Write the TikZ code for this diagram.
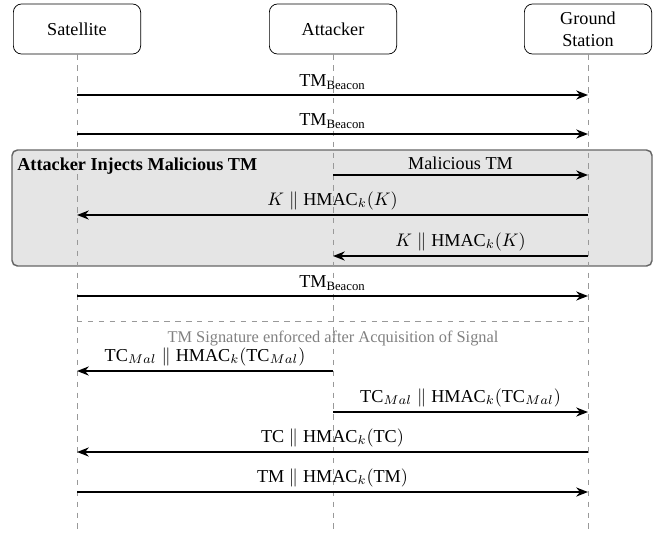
\documentclass[tikz,border=0pt]{standalone}
\usepackage{fontspec}
\setmainfont{Liberation Serif}
\usetikzlibrary{arrows.meta}

\begin{document}
\begin{tikzpicture}[x=0.55pt, y=-0.55pt,
    actor/.style={draw, rounded corners=4.5pt, minimum width=70pt, minimum height=27.5pt, align=center},
    lifeline/.style={dashed, gray!80, line width=0.5pt},
    msg/.style={line width=1pt, -{Stealth[length=6.5pt, width=5pt]}},
    lbl/.style={above, inner sep=2.5pt},
    injbox/.style={draw=black!60, fill=gray!20, rounded corners=3pt, line width=0.8pt}]
    \useasboundingbox (0,0) rectangle (656,532);
    % lifeline x positions
    \def\xs{77}
    \def\xa{333}
    \def\xg{588}
    \def\yend{532}
    % attack block (behind the lifelines)
    \draw[injbox] (12,150) rectangle (652,266);
    \node[font=\bfseries, anchor=west, inner sep=0pt] (injtitle) at (17,166) {Attacker Injects Malicious TM};
    % participants
    \node[actor] (sat) at (\xs,29) {Satellite};
    \node[actor] (att) at (\xa,29) {Attacker};
    \node[actor] (gs) at (\xg,29) {Ground\\Station};
    \coordinate (satend) at (\xs,\yend);
    \coordinate (attend) at (\xa,\yend);
    \coordinate (gsend) at (\xg,\yend);
    \draw[lifeline] (sat.south) -- (satend);
    \draw[lifeline] (att.south) -- (attend);
    \draw[lifeline] (gs.south) -- (gsend);
    % beacons
    \coordinate (S1) at (\xs,95);
    \coordinate (G1) at (\xg,95);
    \draw[msg] (S1) -- (G1) node[lbl, midway] (m1) {TM$_{\mathrm{Beacon}}$};
    \coordinate (S2) at (\xs,134);
    \coordinate (G2) at (\xg,134);
    \draw[msg] (S2) -- (G2) node[lbl, midway] (m2) {TM$_{\mathrm{Beacon}}$};
    % injection
    \coordinate (A3) at (\xa,175);
    \coordinate (G3) at (\xg,175);
    \draw[msg] (A3) -- (G3) node[lbl, midway] (m3) {Malicious TM};
    \coordinate (G4) at (\xg,215);
    \coordinate (S4) at (\xs,215);
    \draw[msg] (G4) -- (S4) node[lbl, midway] (m4) {$K \parallel \mathrm{HMAC}_k(K)$};
    \coordinate (G5) at (\xg,256);
    \coordinate (A5) at (\xa,256);
    \draw[msg] (G5) -- (A5) node[lbl, midway] (m5) {$K \parallel \mathrm{HMAC}_k(K)$};
    %%%%%%%
    \coordinate (S6) at (\xs,296);
    \coordinate (G6) at (\xg,296);
    \draw[msg] (S6) -- (G6) node[lbl, midway] (m6) {TM$_{\mathrm{Beacon}}$};
    % signature enforced
    \coordinate (SL) at (\xs,321);
    \coordinate (GL) at (\xg,321);
    \draw[lifeline] (SL) -- (GL);
    \node[gray, font=\small] (aos) at (\xa,338) {TM Signature enforced after Acquisition of Signal};
    \coordinate (A7) at (\xa,371);
    \coordinate (S7) at (\xs,371);
    \draw[msg] (A7) -- (S7) node[lbl, midway] (m7) {TC$_{Mal} \parallel \mathrm{HMAC}_k(\mathrm{TC}_{Mal})$};
    \coordinate (A8) at (\xa,412);
    \coordinate (G8) at (\xg,412);
    \draw[msg] (A8) -- (G8) node[lbl, midway] (m8) {TC$_{Mal} \parallel \mathrm{HMAC}_k(\mathrm{TC}_{Mal})$};
    \coordinate (G9) at (\xg,452);
    \coordinate (S9) at (\xs,452);
    \draw[msg] (G9) -- (S9) node[lbl, midway] (m9) {TC $\parallel \mathrm{HMAC}_k(\mathrm{TC})$};
    \coordinate (S10) at (\xs,492);
    \coordinate (G10) at (\xg,492);
    \draw[msg] (S10) -- (G10) node[lbl, midway] (m10) {TM $\parallel \mathrm{HMAC}_k(\mathrm{TM})$};
\end{tikzpicture}
\end{document}
